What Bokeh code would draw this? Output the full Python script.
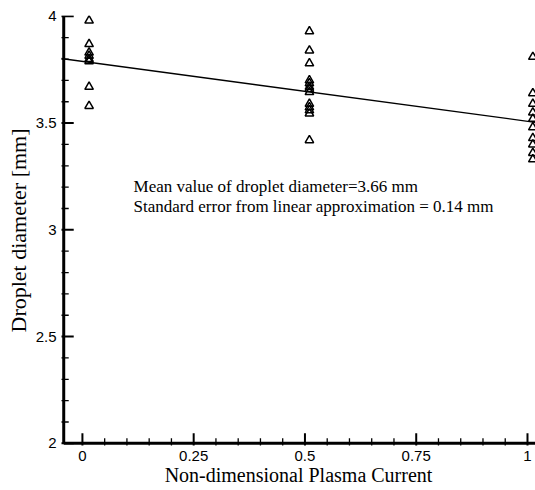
from bokeh.plotting import figure
from bokeh.models import Range1d, FixedTicker, Label
from bokeh.embed import file_html
from bokeh.resources import INLINE

# Data
x_group0 = 0.015
y_group0 = [3.98, 3.87, 3.83, 3.815, 3.80, 3.79, 3.67, 3.58]
x_group1 = 0.51
y_group1 = [3.93, 3.84, 3.78, 3.70, 3.686, 3.67, 3.66, 3.645, 3.59, 3.574, 3.56, 3.545, 3.42]
x_group2 = 1.012
y_group2 = [3.81, 3.64, 3.59, 3.55, 3.52, 3.48, 3.43, 3.40, 3.36, 3.33]
fit_x = [-0.05, 1.03]
fit_y = [3.803, 3.50]
x_ticks = [0, 0.25, 0.5, 0.75, 1]
x_minor = [0.05, 0.1, 0.15, 0.2, 0.3, 0.35, 0.4, 0.45, 0.55, 0.6, 0.65, 0.7, 0.8, 0.85, 0.9, 0.95]
y_ticks = [2, 2.5, 3, 3.5, 4]
y_minor = [2.1, 2.2, 2.3, 2.4, 2.6, 2.7, 2.8, 2.9, 3.1, 3.2, 3.3, 3.4, 3.6, 3.7, 3.8, 3.9]
note_lines = ["Mean value of droplet diameter=3.66 mm",
              "Standard error from linear approximation = 0.14 mm"]
x_title = "Non-dimensional Plasma Current"
y_title = "Droplet diameter [mm]"

xs = [x_group0] * len(y_group0) + [x_group1] * len(y_group1) + [x_group2] * len(y_group2)
ys = y_group0 + y_group1 + y_group2

# frame extents and axis positions (data units)
X0, X1, Y0, Y1 = -0.047, 1.018, 1.99, 4.004
AX, AY = -0.042, 2.0

p = figure(width=535, height=490, output_backend="svg", toolbar_location=None,
           x_range=Range1d(X0, X1), y_range=Range1d(Y0, Y1),
           min_border_left=61, min_border_right=0, min_border_top=15, min_border_bottom=45)
p.outline_line_color = None
p.xgrid.grid_line_color = None
p.ygrid.grid_line_color = None

# fitted line and data
p.line(fit_x, fit_y, line_color="black", line_width=1.3)
p.scatter(xs, ys, marker="triangle", size=8.5, fill_color=None, line_color="black", line_width=1.5)

# axis lines and inward ticks drawn as filled rectangles
p.rect(x=(AX + X1) / 2, y=AY, width=X1 - AX, height=3, height_units="screen",
       fill_color="black", line_color=None)
p.rect(x=AX, y=(AY + 4.0) / 2, width=3, width_units="screen", height=4.0 - AY,
       fill_color="black", line_color=None)
p.rect(x=x_ticks, y=[AY] * len(x_ticks), width=2, height=20,
       width_units="screen", height_units="screen", fill_color="black", line_color=None)
p.rect(x=x_minor, y=[AY] * len(x_minor), width=1.3, height=10,
       width_units="screen", height_units="screen", fill_color="black", line_color=None)
p.rect(x=[AX] * len(y_ticks), y=y_ticks, width=20, height=2,
       width_units="screen", height_units="screen", fill_color="black", line_color=None)
p.rect(x=[AX] * len(y_minor), y=y_minor, width=10, height=1.3,
       width_units="screen", height_units="screen", fill_color="black", line_color=None)

p.axis.axis_line_color = None
p.axis.major_tick_line_color = None
p.axis.minor_tick_line_color = None
p.axis.major_tick_in = 0
p.axis.major_tick_out = 0
p.axis.minor_tick_in = 0
p.axis.minor_tick_out = 0
p.axis.major_label_text_font = "Liberation Sans"
p.axis.major_label_text_font_size = "15px"
p.axis.major_label_text_color = "black"
p.axis.axis_label_text_font = "Liberation Serif"
p.axis.axis_label_text_font_style = "normal"
p.axis.axis_label_text_color = "black"

p.xaxis.ticker = FixedTicker(ticks=x_ticks)
p.yaxis.ticker = FixedTicker(ticks=y_ticks)
p.xaxis.major_label_overrides = {0: "0", 0.25: "0.25", 0.5: "0.5", 0.75: "0.75", 1: "1"}
p.yaxis.major_label_overrides = {2: "2", 2.5: "2.5", 3: "3", 3.5: "3.5", 4: "4"}
p.xaxis.axis_label = x_title
p.yaxis.axis_label = y_title
p.xaxis.axis_label_text_font_size = "20px"
p.yaxis.axis_label_text_font_size = "22px"
p.xaxis.major_label_standoff = 5
p.yaxis.major_label_standoff = 5
p.xaxis.axis_label_standoff = 0
p.yaxis.axis_label_standoff = 2

for i, t in enumerate(note_lines):
    p.add_layout(Label(x=0.115, y=3.205 - i * 0.095, text=t, text_font="Liberation Serif",
                       text_font_size="17px", text_baseline="middle", text_color="black"))

open("out.html", "w").write(file_html(p, INLINE))
